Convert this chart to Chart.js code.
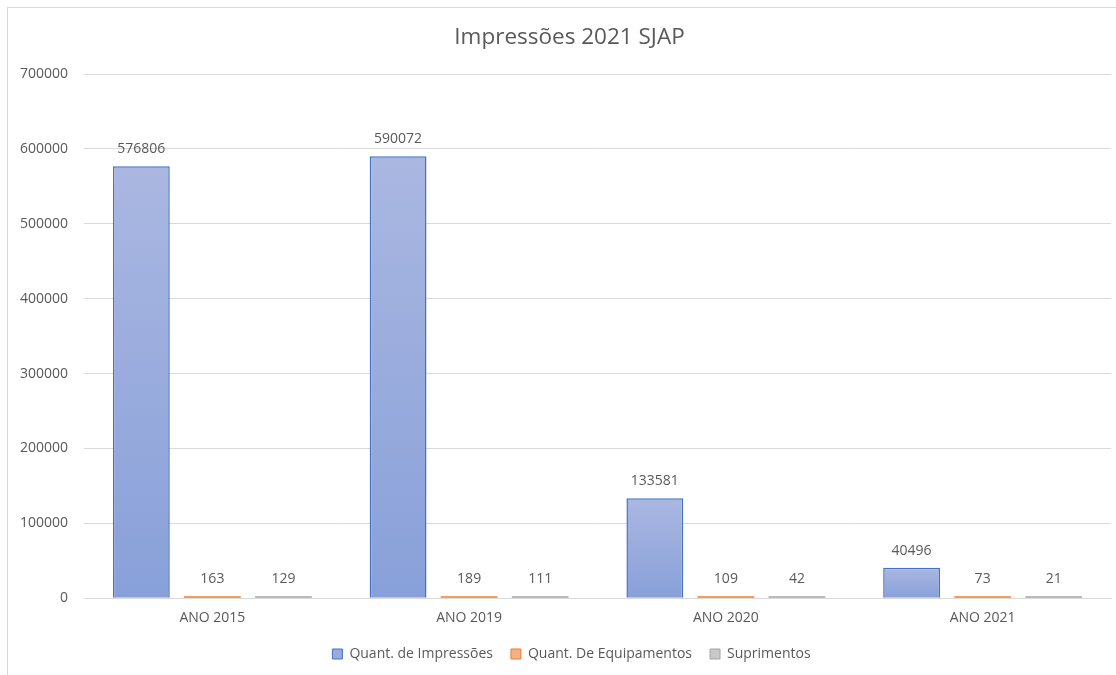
<!DOCTYPE html>
<html lang="pt">
<head>
  <meta charset="UTF-8">
  <title>Impressões 2021 SJAP</title>
  <style>
    html, body { margin: 0; padding: 0; background: #fff; overflow: hidden; }
    .frame {
      position: absolute; left: 7px; top: 7px; width: 1200px; height: 700px;
      border: 1px solid #d9d9d9; box-sizing: border-box;
    }
    .wrap { position: absolute; left: 0; top: 0; width: 1116px; height: 675px; }
  </style>
  <script src="https://cdn.jsdelivr.net/npm/chart.js"></script>
</head>
<body>
  <div class="frame"></div>
  <div class="wrap"><canvas id="chart"></canvas></div>

  <script>
    const categories = ['ANO 2015', 'ANO 2019', 'ANO 2020', 'ANO 2021'];
    const impressoes = [576806, 590072, 133581, 40496];
    const equipamentos = [163, 189, 109, 73];
    const suprimentos = [129, 111, 42, 21];
    const yTicks = [0, 100000, 200000, 300000, 400000, 500000, 600000, 700000];

    const textColor = '#595959';
    const fontFamily = '"Open Sans", "Noto Sans", sans-serif';

    // gradient per bar, lighter at top
    function blueFill(c) {
      const chart = c.chart;
      const y = chart.scales.y;
      if (!chart.chartArea || !y || c.raw == null) return '#98abdc';
      const top = y.getPixelForValue(c.raw);
      const bottom = y.getPixelForValue(0);
      if (!isFinite(top) || bottom - top < 1) return '#98abdc';
      const g = chart.ctx.createLinearGradient(0, top, 0, bottom);
      g.addColorStop(0, '#aab7e1');
      g.addColorStop(1, '#88a0d9');
      return g;
    }

    const valueLabels = {
      id: 'valueLabels',
      afterDatasetsDraw(chart) {
        const ctx = chart.ctx;
        ctx.save();
        ctx.font = '14px ' + fontFamily;
        ctx.fillStyle = textColor;
        ctx.textAlign = 'center';
        ctx.textBaseline = 'middle';
        chart.data.datasets.forEach((ds, i) => {
          chart.getDatasetMeta(i).data.forEach((bar, j) => {
            ctx.fillText(String(ds.data[j]), bar.x, bar.y - 17);
          });
        });
        ctx.restore();
      }
    };

    // title and legend sit a little right of the canvas centre in the original
    const centreShift = {
      id: 'centreShift',
      afterLayout(chart) {
        if (chart.titleBlock) {
          chart.titleBlock.left += 14;
          chart.titleBlock.right += 14;
        }
        if (chart.legend) {
          chart.legend.left += 16;
          chart.legend.right += 16;
        }
      }
    };

    new Chart(document.getElementById('chart'), {
      type: 'bar',
      data: {
        labels: categories,
        datasets: [
          {
            label: 'Quant. de Impressões',
            data: impressoes,
            backgroundColor: blueFill,
            borderColor: '#4472c4',
            borderWidth: 1.5,
            legendFill: '#98abdc'
          },
          {
            label: 'Quant. De Equipamentos',
            data: equipamentos,
            backgroundColor: '#ed7d31',
            borderColor: '#ed7d31',
            borderWidth: 0,
            minBarLength: 2,
            legendFill: '#f4b183'
          },
          {
            label: 'Suprimentos',
            data: suprimentos,
            backgroundColor: '#a5a5a5',
            borderColor: '#a5a5a5',
            borderWidth: 0,
            minBarLength: 2,
            legendFill: '#c9c9c9'
          }
        ]
      },
      options: {
        responsive: true,
        maintainAspectRatio: false,
        animation: false,
        datasets: { bar: { categoryPercentage: 0.83, barPercentage: 0.8 } },
        layout: { padding: { left: 0, right: 5, top: 10, bottom: 4 } },
        plugins: {
          title: {
            display: true,
            text: 'Impressões 2021 SJAP',
            color: textColor,
            font: { family: fontFamily, size: 22.5, weight: 'normal' },
            padding: { top: 14, bottom: 23 }
          },
          legend: {
            position: 'bottom',
            labels: {
              color: textColor,
              font: { family: fontFamily, size: 14 },
              boxWidth: 10,
              boxHeight: 10,
              padding: 18,
              generateLabels(chart) {
                return chart.data.datasets.map((ds, i) => ({
                  text: ds.label,
                  fillStyle: ds.legendFill,
                  strokeStyle: ds.borderColor,
                  lineWidth: 1,
                  fontColor: textColor,
                  hidden: false,
                  datasetIndex: i
                }));
              }
            }
          },
          tooltip: { enabled: false }
        },
        scales: {
          x: {
            afterFit(scale) { scale.height = scale.height - 8; },
            grid: { display: false, drawTicks: false },
            border: { color: '#d9d9d9' },
            ticks: {
              color: textColor,
              font: { family: fontFamily, size: 14 },
              padding: 11
            }
          },
          y: {
            min: 0,
            max: 700000,
            afterFit(scale) { scale.width = 84; },
            afterBuildTicks(scale) { scale.ticks = yTicks.map(v => ({ value: v })); },
            grid: { color: '#d9d9d9', drawTicks: false },
            border: { display: false },
            ticks: {
              color: textColor,
              font: { family: fontFamily, size: 14 },
              padding: 16,
              callback: v => String(v)
            }
          }
        }
      },
      plugins: [valueLabels, centreShift]
    });
  </script>
</body>
</html>
